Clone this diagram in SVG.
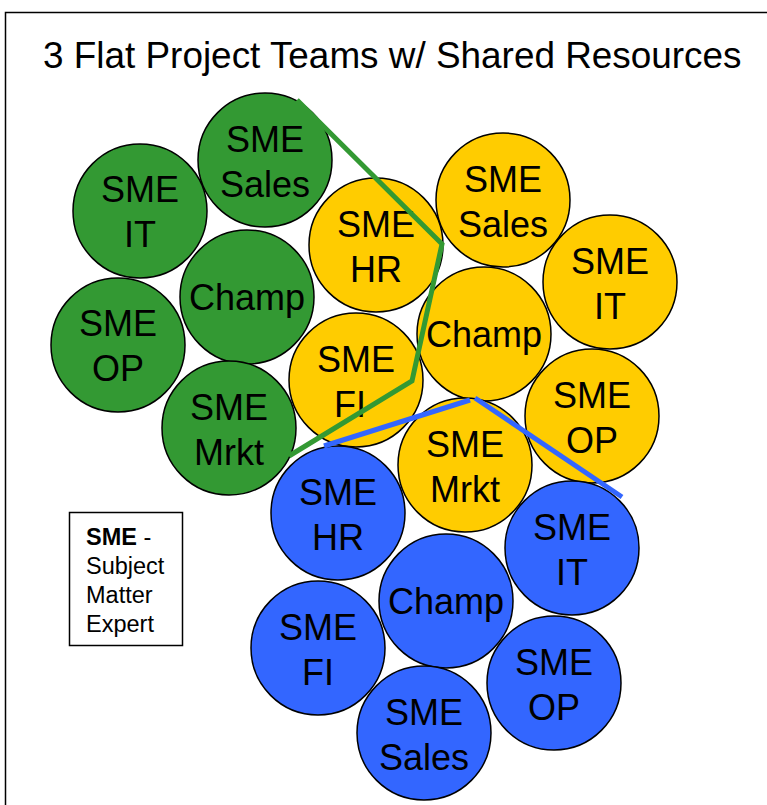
<svg xmlns="http://www.w3.org/2000/svg" width="767" height="805" viewBox="0 0 767 805">
  <style>
    .g { fill: #339933; }
    .y { fill: #FFCC00; }
    .b { fill: #3366FF; }
    circle { stroke: #000; stroke-width: 1.5; }
    .lbl { font-family: "Liberation Sans", Arial, sans-serif; font-size: 36px; fill: #000; text-anchor: middle; }
    .title { font-family: "Liberation Sans", Arial, sans-serif; font-size: 36.9px; fill: #000; }
    .key { font-family: "Liberation Sans", Arial, sans-serif; font-size: 23.5px; fill: #000; }
    .link { fill: none; stroke-width: 5; stroke-linejoin: miter; }
  </style>
  <rect width="767" height="805" fill="#fff"/>
  <!-- frame -->
  <path d="M5.5 805 V12.5 H767" fill="none" stroke="#000" stroke-width="1.5"/>
  <text class="title" x="43" y="68">3 Flat Project Teams w/ Shared Resources</text>

  <!-- green team -->
  <g id="green-sales"><circle class="g" cx="265" cy="160" r="67"/><text class="lbl" x="265" y="152">SME</text><text class="lbl" x="265" y="197">Sales</text></g>
  <g id="green-it"><circle class="g" cx="140" cy="211" r="67"/><text class="lbl" x="140" y="202">SME</text><text class="lbl" x="140" y="247">IT</text></g>
  <g id="green-champ"><circle class="g" cx="247" cy="297" r="67"/><text class="lbl" x="247" y="310">Champ</text></g>
  <g id="green-op"><circle class="g" cx="118" cy="345" r="67"/><text class="lbl" x="118" y="336">SME</text><text class="lbl" x="118" y="381">OP</text></g>
  <g id="green-mrkt"><circle class="g" cx="229" cy="428" r="67"/><text class="lbl" x="229" y="420">SME</text><text class="lbl" x="229" y="465">Mrkt</text></g>

  <!-- yellow team -->
  <g id="yellow-hr"><circle class="y" cx="376" cy="245" r="67"/><text class="lbl" x="376" y="237">SME</text><text class="lbl" x="376" y="282">HR</text></g>
  <g id="yellow-sales"><circle class="y" cx="503" cy="200" r="67"/><text class="lbl" x="503" y="192">SME</text><text class="lbl" x="503" y="237">Sales</text></g>
  <g id="yellow-it"><circle class="y" cx="610" cy="282" r="67"/><text class="lbl" x="610" y="274">SME</text><text class="lbl" x="610" y="319">IT</text></g>
  <g id="yellow-champ"><circle class="y" cx="484" cy="334" r="67"/><text class="lbl" x="484" y="347">Champ</text></g>
  <g id="yellow-fi"><circle class="y" cx="356" cy="380" r="67"/><text class="lbl" x="356" y="372">SME</text><text class="lbl" x="350" y="417">FI</text></g>
  <g id="yellow-op"><circle class="y" cx="592" cy="416" r="67"/><text class="lbl" x="592" y="408">SME</text><text class="lbl" x="592" y="453">OP</text></g>
  <g id="yellow-mrkt"><circle class="y" cx="465" cy="465" r="67"/><text class="lbl" x="465" y="457">SME</text><text class="lbl" x="465" y="502">Mrkt</text></g>

  <!-- blue team -->
  <g id="blue-hr"><circle class="b" cx="338" cy="513" r="67"/><text class="lbl" x="338" y="505">SME</text><text class="lbl" x="338" y="550">HR</text></g>
  <g id="blue-it"><circle class="b" cx="572" cy="548" r="67"/><text class="lbl" x="572" y="540">SME</text><text class="lbl" x="572" y="585">IT</text></g>
  <g id="blue-champ"><circle class="b" cx="446" cy="601" r="67"/><text class="lbl" x="446" y="614">Champ</text></g>
  <g id="blue-fi"><circle class="b" cx="318" cy="648" r="67"/><text class="lbl" x="318" y="640">SME</text><text class="lbl" x="318" y="685">FI</text></g>
  <g id="blue-op"><circle class="b" cx="554" cy="683" r="67"/><text class="lbl" x="554" y="675">SME</text><text class="lbl" x="554" y="720">OP</text></g>
  <g id="blue-sales"><circle class="b" cx="424" cy="733" r="67"/><text class="lbl" x="424" y="725">SME</text><text class="lbl" x="424" y="770">Sales</text></g>

  <!-- shared-resource boundaries -->
  <g id="connectors">
    <polyline class="link" stroke="#339933" points="297,100 442,244 412,381 289,456"/>
    <polyline class="link" stroke="#3366FF" points="324,446 470,400"/>
    <polyline class="link" stroke="#3366FF" points="475,398 622,497"/>
  </g>

  <!-- key -->
  <g id="legend">
    <rect x="69.5" y="512.5" width="113" height="133" fill="#fff" stroke="#000" stroke-width="1.5"/>
    <text class="key" x="86" y="545"><tspan font-weight="bold">SME</tspan> -</text>
    <text class="key" x="86" y="574">Subject</text>
    <text class="key" x="86" y="603">Matter</text>
    <text class="key" x="86" y="632">Expert</text>
  </g>
</svg>
